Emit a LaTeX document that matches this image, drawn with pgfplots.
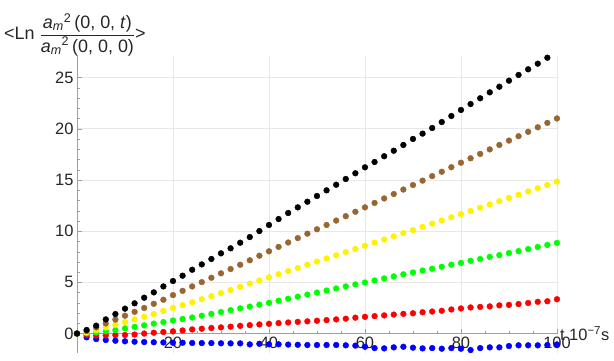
\documentclass[border=0pt]{standalone}
\usepackage{pgfplots}
\pgfplotsset{compat=1.18}
\usepackage{pgfplotstable}
\usepackage{fontspec}
\setmainfont{Liberation Sans}
\definecolor{mbrown}{rgb}{0.6,0.4,0.2}

\pgfplotstableread{
t black brown yellow green red blue
0 0 0 0 0 0 0
2 0.35 0.25 0.10 0.02 -0.15 -0.37
4 0.77 0.60 0.34 0.10 -0.20 -0.54
6 1.38 0.98 0.60 0.22 -0.18 -0.63
8 1.90 1.36 0.86 0.34 -0.15 -0.70
10 2.43 1.74 1.12 0.50 -0.14 -0.76
12 2.95 2.12 1.38 0.65 -0.10 -0.80
14 3.50 2.50 1.64 0.80 0.00 -0.83
16 4.02 2.90 1.90 0.97 0.08 -0.85
18 4.60 3.30 2.20 1.12 0.15 -0.87
20 5.13 3.75 2.50 1.27 0.21 -0.90
22 5.65 4.17 2.78 1.42 0.30 -0.90
24 6.23 4.60 3.05 1.57 0.40 -0.92
26 6.75 5.02 3.35 1.74 0.47 -0.93
28 7.28 5.45 3.65 1.92 0.54 -0.93
30 7.83 5.88 3.95 2.10 0.60 -0.95
32 8.32 6.30 4.25 2.28 0.67 -0.96
34 8.87 6.72 4.55 2.46 0.75 -0.96
36 9.42 7.15 4.87 2.63 0.82 -1.06
38 10.01 7.60 5.18 2.82 0.89 -1.00
40 10.60 8.03 5.48 3.00 0.95 -1.05
42 11.18 8.46 5.80 3.20 1.02 -1.05
44 11.77 8.89 6.10 3.40 1.08 -1.08
46 12.32 9.32 6.40 3.60 1.14 -1.10
48 12.87 9.75 6.72 3.80 1.19 -1.12
50 13.43 10.18 7.03 4.00 1.25 -1.12
52 13.98 10.60 7.33 4.20 1.31 -1.12
54 14.53 11.03 7.64 4.40 1.38 -1.12
56 15.09 11.46 7.95 4.60 1.45 -1.15
58 15.65 11.89 8.26 4.80 1.55 -1.18
60 16.23 12.32 8.57 4.98 1.63 -1.29
62 16.75 12.75 8.88 5.18 1.70 -1.42
64 17.31 13.19 9.18 5.38 1.77 -1.45
66 17.85 13.62 9.49 5.58 1.85 -1.35
68 18.41 14.06 9.80 5.78 1.92 -1.29
70 19.00 14.50 10.10 5.96 1.98 -1.38
72 19.52 14.93 10.42 6.15 2.08 -1.45
74 20.07 15.37 10.73 6.33 2.15 -1.42
76 20.65 15.80 11.04 6.52 2.22 -1.48
78 21.24 16.24 11.35 6.72 2.35 -1.42
80 21.83 16.68 11.66 6.90 2.45 -1.48
82 22.41 17.11 11.97 7.10 2.55 -1.61
84 22.97 17.54 12.28 7.28 2.60 -1.42
86 23.55 17.98 12.60 7.48 2.65 -1.35
88 24.10 18.41 12.92 7.66 2.75 -1.35
90 24.69 18.84 13.24 7.86 2.80 -1.22
92 25.25 19.27 13.55 8.05 2.88 -1.15
94 25.80 19.70 13.87 8.25 2.98 -1.15
96 26.35 20.14 14.19 8.45 3.10 -1.15
98 26.93 20.57 14.51 8.65 3.15 -1.12
100 nan 21.00 14.83 8.85 3.35 -1.06
}\datatable

\begin{document}
\begin{tikzpicture}
\useasboundingbox (-77bp,-8bp) rectangle (537bp,353bp);
\begin{axis}[
  name=ax,
  at={(0,0)}, anchor=south west,
  scale only axis, width=481.4bp, height=296.5bp,
  xmin=0, xmax=100.3, ymin=-1.9, ymax=27.05,
  axis x line=middle, axis y line=left,
  axis line style={gray!75, -},
  xtick={20,40,60,80,100}, ytick={0,5,10,15,20,25},
  minor x tick num=3, minor y tick num=4,
  hide obscured x ticks=false, hide obscured y ticks=false,
  tick align=inside, major tick length=5bp, minor tick length=3bp,
  tick style={gray!75},
  grid=major, major grid style={gray!18, line width=0.7pt},
  ticklabel style={font=\fontsize{16.5}{18}\selectfont, text=black!85},
  /pgf/number format/assume math mode=true,
  clip=false,
  xlabel={t 10\textsuperscript{−7}s},
  every axis x label/.style={at={(axis description cs:1,0.0656)}, anchor=west, inner sep=1.5bp, font=\fontsize{16.5}{18}\selectfont, text=black!85},
  ylabel={<Ln $\displaystyle\frac{\mbox{\textit{a}\textsubscript{\textit{m}}\textsuperscript{2}\,(0, 0, \textit{t})}}{\mbox{\textit{a}\textsubscript{\textit{m}}\textsuperscript{2}\,(0, 0, 0)}}$>},
  every axis y label/.style={at={(axis description cs:0,1)}, anchor=west, inner sep=0pt, xshift=-73bp, yshift=22bp, font=\fontsize{18}{20}\selectfont, text=black!85},
  every axis plot/.append style={only marks, mark=*, mark size=2.9bp},
]
\addplot[blue, mark options={fill=blue}] table[x=t, y=blue] {\datatable};
\addplot[red, mark options={fill=red}] table[x=t, y=red] {\datatable};
\addplot[green, mark options={fill=green}] table[x=t, y=green] {\datatable};
\addplot[yellow, mark options={fill=yellow}] table[x=t, y=yellow] {\datatable};
\addplot[mbrown, mark options={fill=mbrown}] table[x=t, y=brown] {\datatable};
\addplot[black, mark options={fill=black}] table[x=t, y=black] {\datatable};
\end{axis}
\end{tikzpicture}
\end{document}
